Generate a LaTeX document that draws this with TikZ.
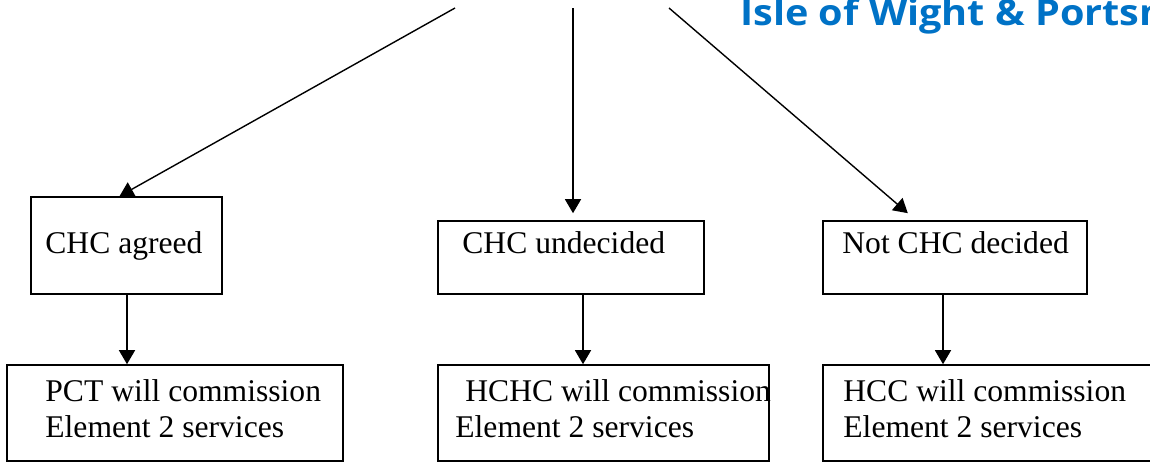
\documentclass[tikz,border=0pt]{standalone}
\usepackage{fontspec}
\setmainfont{Liberation Serif}
\newfontfamily\titlefont[FakeStretch=1.1]{Open Sans}
\usetikzlibrary{arrows.meta}
\definecolor{iwblue}{RGB}{0,114,198}

\begin{document}
\begin{tikzpicture}[x=0.5pt,y=-0.5pt,
    box/.style={draw,line width=0.8pt,inner sep=0pt},
    arr/.style={-{Triangle[length=7pt,width=8pt]},line width=0.7pt},
    txt/.style={anchor=base west,inner sep=0pt,font=\fontsize{15.8}{19}\selectfont}]
    \useasboundingbox (0,0) rectangle (1150,462);
    \clip (0,0) rectangle (1150,462);
    % Titel oben rechts
    \node[anchor=base west,inner sep=0pt,text=iwblue,
      font=\titlefont\bfseries\fontsize{18}{21}\selectfont] (title) at (740,25) {Isle of Wight \& Portsm};
    % Kaesten
    \foreach \name/\xa/\ya/\xb/\yb in {agreed/31/197/222/294,undecided/438/221/704/294,notchc/823/221/1087/294,
      pct/7/365/343/461,hchc/438/365/769/461,hcc/823/365/1170/461}
      \node[box,minimum width={0.5pt*(\xb-\xa)},minimum height={0.5pt*(\yb-\ya)}]
        (\name) at ({(\xa+\xb)/2},{(\ya+\yb)/2}) {};
    % Beschriftungen
    \foreach \x/\y/\xtext in {45/253/{CHC agreed},462/253/{CHC undecided},842/253/{Not CHC decided},
      45/401/{PCT will commission},45/437/{Element 2 services},
      465/401/{HCHC will commission},455/437/{Element 2 services},
      843/401/{HCC will commission},843/437/{Element 2 services}}
      \node[txt] at (\x,\y) {\xtext};
    % Pfeile von oben
    \coordinate (q1) at (455,8);
    \coordinate (q2) at (573,8);
    \coordinate (q3) at (669,8);
    \draw[arr] (q1) -- ([xshift=-3.5pt]agreed.north);
    \draw[arr,shorten >=3.5pt] (q2) -- (q2 |- undecided.north);
    \draw[arr,shorten >=5.4pt] (q3) -- ([xshift=-19.5pt]notchc.north);
    % Pfeile nach unten
    \draw[arr] ([xshift=0.25pt]agreed.south) -- ([xshift=0.25pt]agreed.south |- pct.north);
    \draw[arr] ([xshift=6pt]undecided.south) -- ([xshift=6pt]undecided.south |- hchc.north);
    \draw[arr] ([xshift=-6pt]notchc.south) -- ([xshift=-6pt]notchc.south |- hcc.north);
\end{tikzpicture}
\end{document}
